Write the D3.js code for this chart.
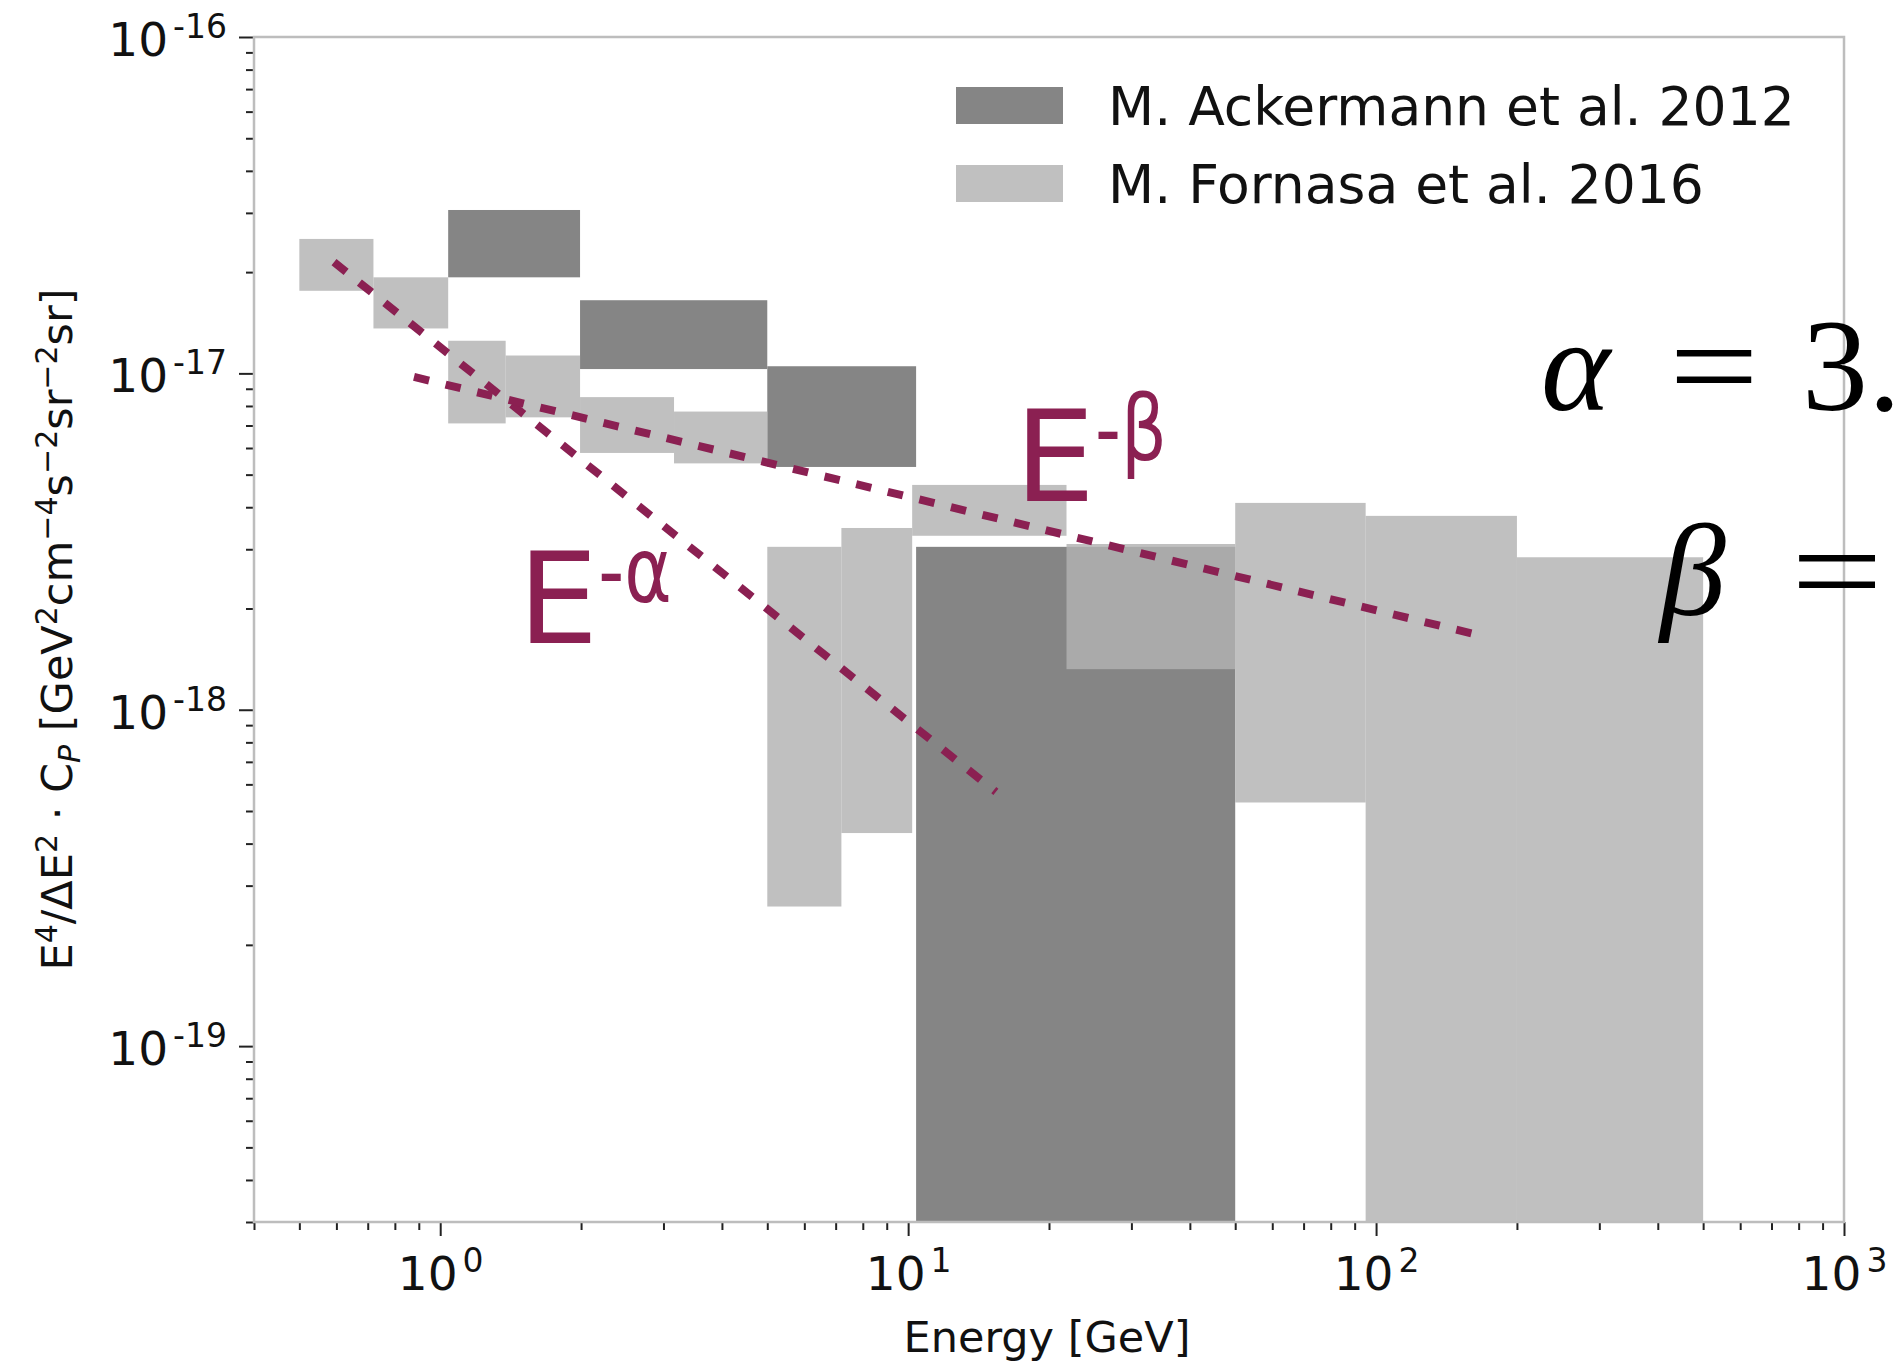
<!DOCTYPE html>
<html>
<head>
<meta charset="utf-8">
<script src="https://cdn.jsdelivr.net/npm/d3@7"></script>
<style>
  body { margin: 0; background: #fff; }
  text { font-family: 'DejaVu Sans', sans-serif; }
</style>
</head>
<body>
<svg id="chart" width="1901" height="1367"></svg>
<script>
// bin edges in GeV, band limits (0 = goes below the axis)
const fornasaEdges = [0.5, 0.72, 1.04, 1.38, 1.99, 3.16, 5.0, 7.2, 10.2, 21.8, 50, 95, 200, 500]
const fornasaUpper = [2.51e-17, 1.93e-17, 1.25e-17, 1.13e-17, 8.5e-18, 7.7e-18, 3.05e-18, 3.47e-18, 4.66e-18, 3.11e-18, 4.12e-18, 3.77e-18, 2.84e-18]
const fornasaLower = [1.76e-17, 1.36e-17, 7.1e-18, 7.4e-18, 5.8e-18, 5.4e-18, 2.6e-19, 4.3e-19, 3.29e-18, 1.32e-18, 5.3e-19, 0, 0]

const ackermannEdges = [1.04, 1.99, 5.0, 10.4, 50]
const ackermannUpper = [3.06e-17, 1.65e-17, 1.05e-17, 3.05e-18]
const ackermannLower = [1.93e-17, 1.03e-17, 5.27e-18, 0]

// power-law guide lines
const alphaLineE = [0.593, 15.4]
const alphaLineV = [2.14e-17, 5.7e-19]
const betaLineE = [0.879, 172]
const betaLineV = [9.76e-18, 1.646e-18]

// label anchors (data coords)
const alphaLabel = [1.466, 1.58e-18]
const betaLabel = [16.9, 4.18e-18]

const legendNames = ['M. Ackermann et al. 2012', 'M. Fornasa et al. 2016']

const xTickExp = [0, 1, 2, 3]
const yTickExp = [-16, -17, -18, -19]

const darkGray = '#858585'
const lightGray = 'rgb(178,178,178)'
const lightAlpha = 0.82
const lineColor = '#8b2052'

const svg = d3.select('#chart')

const x = d3.scaleLog().domain([0.4, 1000]).range([254, 1844])
const y = d3.scaleLog().domain([3e-20, 1e-16]).range([1222, 37])
const [x0, x1] = x.range()
const [yb, yt] = y.range()

svg.append('clipPath').attr('id', 'plot-clip')
  .append('rect')
  .attr('x', x0).attr('y', yt)
  .attr('width', x1 - x0).attr('height', yb - yt)

const plot = svg.append('g').attr('clip-path', 'url(#plot-clip)')

function bins (edges, upper, lower) {
  return upper.map((u, i) => ({ lo: edges[i], hi: edges[i + 1], up: u, low: lower[i] }))
}

function drawBins (data, fill, opacity) {
  plot.append('g')
    .selectAll('rect')
    .data(data)
    .enter().append('rect')
    .attr('x', d => x(d.lo))
    .attr('width', d => x(d.hi) - x(d.lo))
    .attr('y', d => y(d.up))
    .attr('height', d => (d.low > 0 ? y(d.low) : yb + 5) - y(d.up))
    .attr('fill', fill)
    .attr('fill-opacity', opacity)
}

drawBins(bins(ackermannEdges, ackermannUpper, ackermannLower), darkGray, 1)
drawBins(bins(fornasaEdges, fornasaUpper, fornasaLower), lightGray, lightAlpha)

const line = d3.line().x(d => x(d[0])).y(d => y(d[1]))

function guide (es, vs) {
  plot.append('path')
    .datum(es.map((e, i) => [e, vs[i]]))
    .attr('d', line)
    .attr('fill', 'none')
    .attr('stroke', lineColor)
    .attr('stroke-width', 8)
    .attr('stroke-dasharray', '15.5,17')
}
guide(alphaLineE, alphaLineV)
guide(betaLineE, betaLineV)

// E^-a labels; the superscript glyphs are narrower than plain DejaVu, so squeeze them
function powerLabel (pos, sym) {
  const px = x(pos[0])
  const py = y(pos[1])
  const big = svg.append('text')
    .attr('x', px).attr('y', py)
    .attr('fill', lineColor)
    .style('font-size', '127px')
    .text('E')
  const w = big.node().getComputedTextLength()
  svg.append('text')
    .attr('transform', 'translate(' + (px + w) + ',' + (py - 41) + ') scale(0.8,1)')
    .attr('fill', lineColor)
    .style('font-size', '90px')
    .text('-' + sym)
}
powerLabel(alphaLabel, 'α')
powerLabel(betaLabel, 'β')

// legend
const legend = svg.append('g')
legendNames.forEach((name, i) => {
  const row = legend.append('g').attr('transform', 'translate(956,' + (87 + i * 78) + ')')
  row.append('rect')
    .attr('width', 107).attr('height', 37)
    .attr('fill', i === 0 ? darkGray : lightGray)
    .attr('fill-opacity', i === 0 ? 1 : lightAlpha)
  row.append('text')
    .attr('x', 152).attr('y', 38)
    .style('font-size', '53.5px')
    .attr('fill', '#111')
    .text(name)
})

// axes
function minorTicks (lo, hi) {
  const out = []
  for (let d = Math.floor(Math.log10(lo)); d <= Math.ceil(Math.log10(hi)); d++) {
    for (let m = 2; m <= 9; m++) {
      const v = m * Math.pow(10, d)
      if (v >= lo * 0.999 && v <= hi * 1.001) out.push(v)
    }
  }
  return out
}

function supLabel (sel, exps) {
  sel.selectAll('text').each(function (d, i) {
    const t = d3.select(this)
    t.text('')
    t.append('tspan').text('10')
    t.append('tspan')
      .attr('dx', 5).attr('dy', -18)
      .style('font-size', '33px')
      .text(String(exps[i]))
  })
}

const xMajor = xTickExp.map(e => Math.pow(10, e))
const yMajor = yTickExp.map(e => Math.pow(10, e))

const xMinorG = svg.append('g').attr('transform', 'translate(0,' + yb + ')')
  .call(d3.axisBottom(x).tickValues(minorTicks(0.4, 1000)).tickSize(8).tickFormat(''))
const xMajorG = svg.append('g').attr('transform', 'translate(0,' + yb + ')')
  .call(d3.axisBottom(x).tickValues(xMajor).tickSize(14).tickPadding(21).tickFormat(''))
supLabel(xMajorG, xTickExp)

const yMinorG = svg.append('g').attr('transform', 'translate(' + x0 + ',0)')
  .call(d3.axisLeft(y).tickValues(minorTicks(3e-20, 1e-16)).tickSize(8).tickFormat(''))
const yMajorG = svg.append('g').attr('transform', 'translate(' + x0 + ',0)')
  .call(d3.axisLeft(y).tickValues(yMajor).tickSize(15).tickPadding(12).tickFormat(''))
yMajorG.selectAll('text').attr('dy', '0.39em')
supLabel(yMajorG, yTickExp)

;[xMinorG, xMajorG, yMinorG, yMajorG].forEach(g => {
  g.select('.domain').remove()
  g.selectAll('line').attr('stroke', '#222').attr('stroke-width', 2)
  g.selectAll('text').attr('fill', '#111').style('font-size', '47px').attr('font-family', 'DejaVu Sans')
})

// spines
svg.append('rect')
  .attr('x', x0).attr('y', yt)
  .attr('width', x1 - x0).attr('height', yb - yt)
  .attr('fill', 'none')
  .attr('stroke', '#bdbdbd')
  .attr('stroke-width', 2.5)

svg.append('text')
  .attr('x', (x0 + x1) / 2 - 2).attr('y', 1352)
  .attr('text-anchor', 'middle')
  .style('font-size', '43px')
  .attr('fill', '#111')
  .text('Energy [GeV]')

// y label with mathtext-ish super/subscripts
const ylab = svg.append('text')
  .attr('transform', 'translate(72,' + (yb + yt) / 2 + ') rotate(-90)')
  .attr('text-anchor', 'middle')
  .style('font-size', '43px')
  .attr('fill', '#111')
const parts = [
  ['E'], ['4', 'sup'], ['/ΔE'], ['2', 'sup'], [' · C'], ['P', 'sub'], [' [GeV'], ['2', 'sup'],
  ['cm'], ['−4', 'sup'], ['s'], ['−2', 'sup'], ['sr'], ['−2', 'sup'], ['sr]']
]
let shift = 0
parts.forEach(p => {
  const target = p[1] === 'sup' ? -15 : p[1] === 'sub' ? 8 : 0
  const ts = ylab.append('tspan').attr('dy', target - shift).text(p[0])
  shift = target
  if (p[1]) ts.style('font-size', '30px')
  if (p[1] === 'sub') ts.style('font-style', 'italic')
})

// fitted indices, cut by the right edge as in the original
const serif = "'Liberation Serif', serif"
const eq = svg.append('g').attr('fill', '#000')
function eqText (tx, ty, s, opts) {
  const t = eq.append('text')
    .attr('x', tx).attr('y', ty)
    .style('font-family', serif)
    .style('font-size', '132px')
    .text(s)
  if (opts && opts.italic) t.style('font-style', 'italic')
  if (opts && opts.len) t.attr('textLength', opts.len).attr('lengthAdjust', 'spacingAndGlyphs')
}
eqText(1541, 410, 'α', { italic: true })
eqText(1669, 410, '=', { len: 90 })
eqText(1802, 410, '3.')
eqText(1660, 615, 'β', { italic: true })
eqText(1791, 615, '=', { len: 92 })
</script>
</body>
</html>
